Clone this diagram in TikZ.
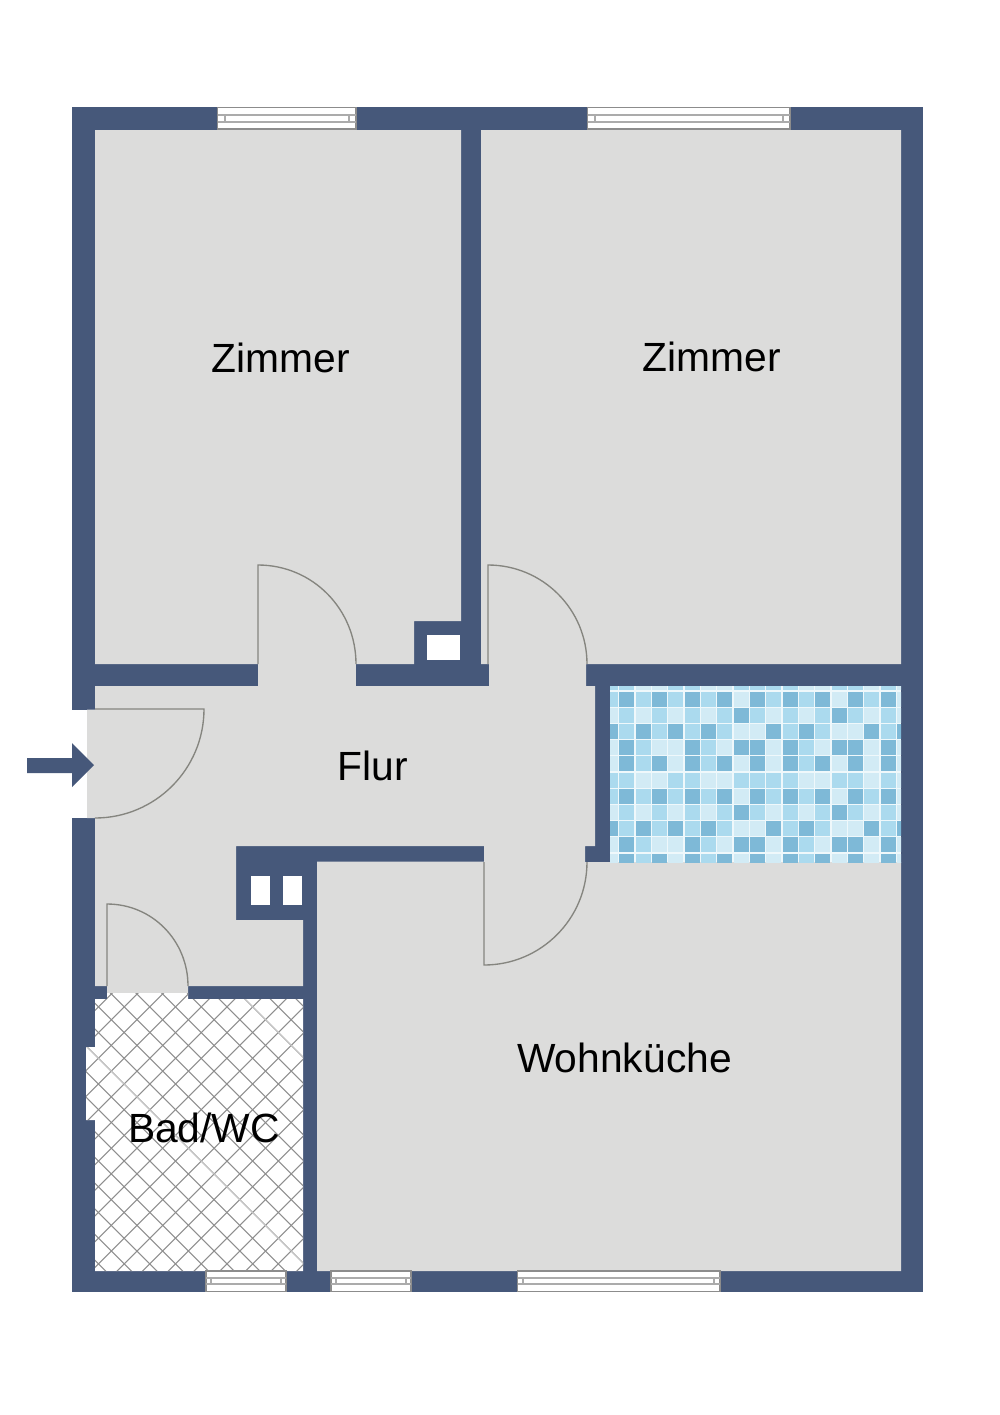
\documentclass[tikz,border=0pt]{standalone}
\usepackage{fontspec}
\setmainfont{Liberation Sans}
\definecolor{wallc}{HTML}{46587A}
\definecolor{floorc}{HTML}{DCDCDB}
\definecolor{doorc}{HTML}{85857F}
\definecolor{framec}{HTML}{8C8C8C}
\definecolor{railc}{HTML}{ABABAB}
\definecolor{hatchc}{HTML}{8E8E8E}
\definecolor{hatchpale}{HTML}{C6C6C6}
\definecolor{grout}{HTML}{EFF8FB}
\definecolor{tD}{HTML}{7EB9D7}
\definecolor{tM}{HTML}{ABDAEE}
\definecolor{tL}{HTML}{D2EBF5}
\tikzset{
  wall/.style={fill=wallc,draw=none},
  floorfill/.style={fill=floorc,draw=none},
  hole/.style={fill=white,draw=none},
  doorline/.style={draw=doorc,line width=1.15pt,line join=miter},
  hatchline/.style={draw=hatchc,line width=0.9pt},
  roomlabel/.style={anchor=base,font=\fontsize{34.8pt}{38pt}\selectfont,text=black,inner sep=0pt},
  windowframe/.style={fill=white,draw=framec,line width=1.3pt},
  rail/.style={draw=railc,line width=1.1pt}
}
% x1 x2 y1 y2 (frame), r1 r2 (rail y), v1 v2 (rail stop x)
\newcommand{\flatwindow}[8]{%
  \draw[windowframe] (#1,#3) rectangle (#2,#4);
  \draw[rail] (#1,#5) -- (#2,#5) (#1,#6) -- (#2,#6) (#7,#5) -- (#7,#6) (#8,#5) -- (#8,#6);
}
\begin{document}
\begin{tikzpicture}[x=0.03cm,y=-0.03cm]
\useasboundingbox (0,0) rectangle (1000,1415);
\fill[white] (0,0) rectangle (1000,1415);
% outer mass of walls
\path[wall] (72,107) rectangle (923,1292);
% rooms
\path[floorfill] (95,130) -- (461,130) -- (461,621) -- (414,621) -- (414,664) -- (95,664) -- cycle;
\path[floorfill] (481,130) -- (901,130) -- (901,664) -- (586,664) -- (586,686) -- (489,686) -- (489,664) -- (481,664) -- cycle;
\path[floorfill] (258,660) rectangle (356,690);
\path[floorfill] (87,709.5) -- (95,709.5) -- (95,686) -- (595,686) -- (595,846) -- (585,846) -- (585,865) -- (484,865) -- (484,846) -- (236,846) -- (236,920) -- (303,920) -- (303,986) -- (188,986) -- (188,993) -- (107,993) -- (107,986) -- (95,986) -- (95,818) -- (87,818) -- cycle;
\path[floorfill] (317,861.5) -- (585,861.5) -- (585,862) -- (901,862) -- (901,1271) -- (317,1271) -- cycle;
% entrance opening, outer part
\path[hole] (71,710) rectangle (87,818);
% chimney flues
\path[hole] (427,635) rectangle (460,660);
\path[hole] (251,876) rectangle (270,905);
\path[hole] (283,876) rectangle (302,905);
% bathroom with hatching
\path[hole] (95,999) -- (107,999) -- (107,993) -- (188,993) -- (188,999) -- (303,999) -- (303,1271) -- (95,1271) -- (95,1120) -- (86,1120) -- (86,1047) -- (95,1047) -- cycle;
\begin{scope}
  \clip (95,999) -- (107,999) -- (107,993) -- (188,993) -- (188,999) -- (303,999) -- (303,1271) -- (95,1271) -- (95,1120) -- (86,1120) -- (86,1047) -- (95,1047) -- cycle;
  \foreach \k in {-16,...,16} {
    \draw[hatchline] ({1388+\k*25.7-1300},1300) -- ({1388+\k*25.7-960},960);
    \draw[hatchline] (60,{1062.6+\k*25.7+60}) -- (340,{1062.6+\k*25.7+340});
  }
  \foreach \k in {-4,-12} {
    \draw[hatchline,draw=hatchpale] (60,{1062.6+\k*25.7+60}) -- (340,{1062.6+\k*25.7+340});
  }
\end{scope}
% tiles
\path[fill=grout] (610,686) rectangle (901,862);
\begin{scope}
  \clip (610,686) rectangle (901,862);
  \def\rowa{tM,tD,tM,tD,tM,tD,tM,tD,tL,tD,tM,tD,tM,tD,tL,tD,tM,tD,tL}
  \def\rowb{tL,tM,tL,tM,tL,tM,tL,tM,tD,tM,tL,tM,tL,tM,tD,tM,tL,tM,tL}
  \def\rowc{tD,tM,tD,tM,tD,tM,tD,tM,tL,tL,tD,tM,tD,tM,tL,tL,tD,tM,tD}
  \def\rowd{tL,tD,tM,tL,tL,tD,tM,tL,tD,tD,tL,tD,tM,tL,tD,tD,tL,tD,tL}
  \def\rowe{tL,tD,tM,tD,tL,tD,tM,tD,tL,tD,tL,tD,tM,tD,tL,tD,tL,tD,tL}
  \def\rowf{tM,tM,tL,tL,tM,tM,tL,tL,tM,tM,tM,tM,tL,tL,tM,tM,tL,tM,tL}
  \foreach \j/\which in {-1/f,0/a,1/b,2/c,3/d,4/e,5/f,6/a,7/b,8/c,9/d,10/e} {
    \edef\pat{\csname row\which\endcsname}
    \foreach \t [count=\i from -1] in \pat {
      \path[fill=\t] ({619.3+\i*16.33},{691.5+\j*16.2}) rectangle ++(15,15);
    }
  }
\end{scope}
% entrance arrow
\path[wall] (27,758) -- (72,758) -- (72,743) -- (94,765) -- (72,787) -- (72,773) -- (27,773) -- cycle;
% doors
\draw[doorline] (258,664) -- (258,565) .. controls (312.7,565) and (356,609.3) .. (356,664);
\draw[doorline] (488,664) -- (488,565) .. controls (542.7,565) and (587,609.3) .. (587,664);
\draw[doorline] (95,709) -- (204,709) .. controls (204,769.2) and (155.2,818) .. (95,818);
\draw[doorline] (484,862) -- (484,965) .. controls (540.9,965) and (587,918.9) .. (587,862);
\draw[doorline] (107,986) -- (107,904) .. controls (152.3,904) and (188,940.7) .. (188,986);
% windows
\flatwindow{217.5}{356}{107.5}{129}{115}{122}{225}{349}
\flatwindow{587.5}{790}{107.5}{129}{115}{122}{595}{783}
\flatwindow{206}{286}{1271}{1291.5}{1278}{1284}{211}{281}
\flatwindow{331}{411}{1271}{1291.5}{1278}{1284}{336}{406}
\flatwindow{517.5}{720}{1271}{1291.5}{1278}{1284}{523}{714}
% labels
\node[roomlabel] (zimmerl) at (281,372) {Zimmer};
\node[roomlabel] (zimmerr) at (712,371) {Zimmer};
\node[roomlabel] (flur) at (373,780) {Flur};
\node[roomlabel] (wohn) at (624.5,1072) {Wohnküche};
\node[roomlabel] (bad) at (204,1142) {Bad/WC};
\end{tikzpicture}
\end{document}
